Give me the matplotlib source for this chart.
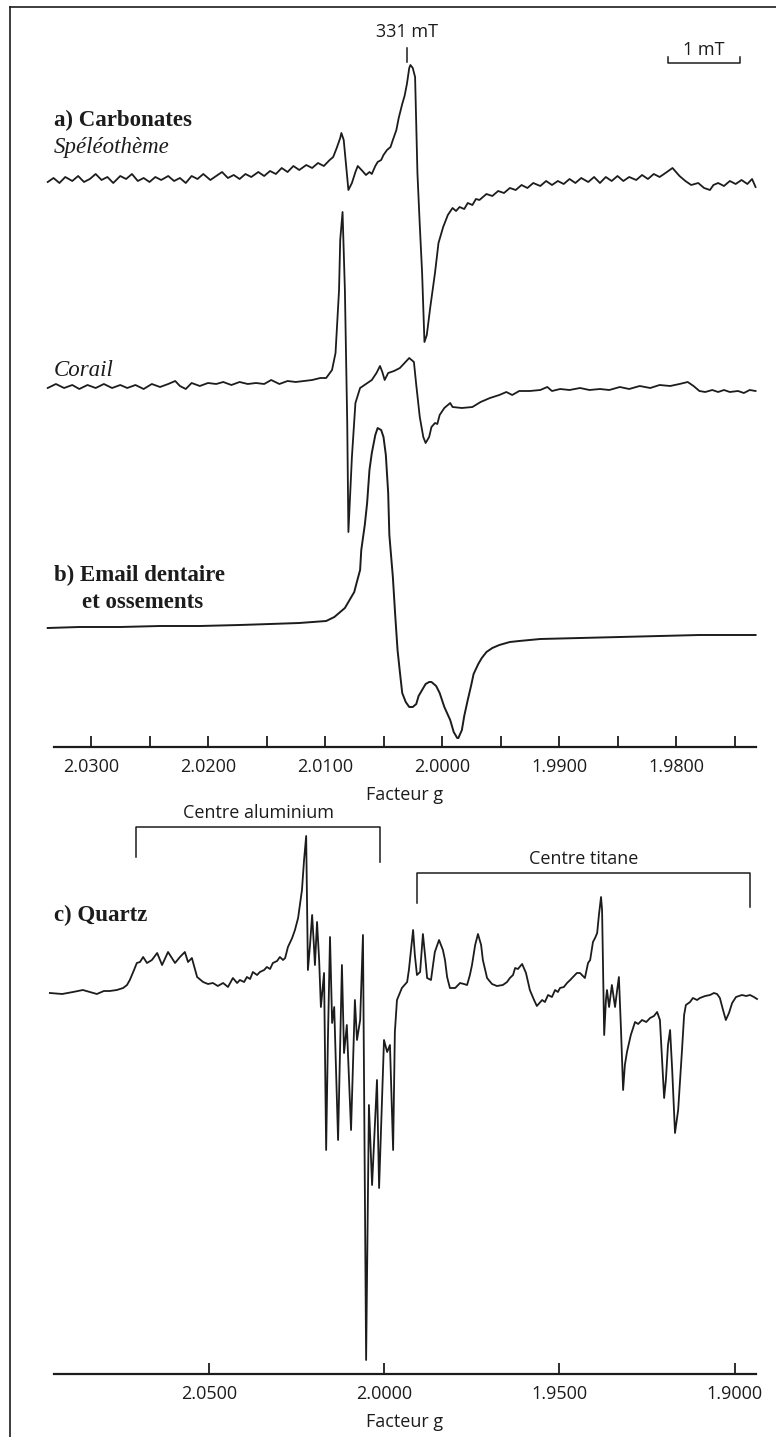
import matplotlib.pyplot as plt
import numpy as np
from matplotlib.lines import Line2D

W, H = 776, 1437

# ---- a) Carbonates / b) Email : facteur g vs amplitude (u.a.) ----
speleo_g = [2.0337, 2.0332, 2.0327, 2.0322, 2.0316, 2.0311, 2.0306, 2.0301, 2.0296, 2.0291,
            2.0286, 2.0281, 2.0275, 2.0270, 2.0265, 2.0260, 2.0255, 2.0250, 2.0245, 2.0240,
            2.0234, 2.0229, 2.0224, 2.0219, 2.0214, 2.0209, 2.0204, 2.0198, 2.0193, 2.0188,
            2.0183, 2.0178, 2.0173, 2.0168, 2.0163, 2.0157, 2.0152, 2.0147, 2.0142, 2.0137,
            2.0132, 2.0127, 2.0122, 2.0116, 2.0111, 2.0106, 2.0101, 2.0096, 2.0093, 2.0090,
            2.0087, 2.0086, 2.0084, 2.0082, 2.0080, 2.0077, 2.0074, 2.0072, 2.0068, 2.0065,
            2.0062, 2.0060, 2.0057, 2.0055, 2.0052, 2.0050, 2.0047, 2.0044, 2.0042, 2.0039,
            2.0037, 2.0034, 2.0032, 2.0030, 2.0028, 2.0027, 2.0025, 2.0023, 2.0021, 2.0019,
            2.0017, 2.0015, 2.0013, 2.0010, 2.0006, 2.0003, 1.9999, 1.9995, 1.9991, 1.9988,
            1.9985, 1.9981, 1.9978, 1.9974, 1.9971, 1.9968, 1.9962, 1.9957, 1.9952, 1.9947,
            1.9942, 1.9937, 1.9932, 1.9927, 1.9922, 1.9916, 1.9911, 1.9906, 1.9901, 1.9896,
            1.9891, 1.9886, 1.9881, 1.9875, 1.9870, 1.9865, 1.9860, 1.9855, 1.9850, 1.9845,
            1.9840, 1.9834, 1.9829, 1.9824, 1.9819, 1.9814, 1.9809, 1.9803, 1.9800, 1.9797,
            1.9792, 1.9787, 1.9781, 1.9776, 1.9771, 1.9768, 1.9764, 1.9759, 1.9754, 1.9749,
            1.9744, 1.9739, 1.9735, 1.9732]
speleo_amp = [-2, 2, -3, 3, -1, 4, -2, 1, 6, 0,
              3, -3, 4, 1, 6, -1, 2, -2, 3, 0,
              4, -1, 2, -3, 4, 1, 6, 0, 4, 8,
              2, 5, 1, 6, 3, 8, 4, 9, 6, 12,
              8, 14, 10, 15, 12, 17, 14, 20, 23, 32,
              42, 47, 40, 15, -10, -3, 8, 14, 9, 5,
              8, 6, 14, 18, 20, 25, 30, 33, 40, 50,
              62, 76, 84, 96, 112, 115, 112, 103, 7, -45,
              -93, -162, -155, -127, -93, -63, -47, -35, -28, -31,
              -27, -29, -23, -25, -19, -20, -14, -16, -11, -13,
              -8, -10, -5, -8, -3, -6, -1, -5, -1, -4,
              1, -3, 2, -2, 3, -3, 3, -1, 4, -1,
              3, 0, 5, 1, 6, 3, 7, 12, 8, 4,
              -1, -5, -3, -8, -10, -5, -3, -6, -1, -4,
              0, -4, 1, -7]

corail_g = [2.0337, 2.0330, 2.0323, 2.0316, 2.0310, 2.0303, 2.0296, 2.0289, 2.0282, 2.0275,
            2.0269, 2.0262, 2.0255, 2.0248, 2.0241, 2.0234, 2.0228, 2.0224, 2.0219, 2.0214,
            2.0207, 2.0200, 2.0193, 2.0187, 2.0180, 2.0173, 2.0166, 2.0159, 2.0152, 2.0146,
            2.0139, 2.0132, 2.0125, 2.0118, 2.0111, 2.0104, 2.0099, 2.0094, 2.0091, 2.0088,
            2.0087, 2.0085, 2.0083, 2.0081, 2.0080, 2.0077, 2.0074, 2.0070, 2.0065, 2.0060,
            2.0056, 2.0053, 2.0051, 2.0049, 2.0046, 2.0041, 2.0036, 2.0032, 2.0028, 2.0024,
            2.0022, 2.0019, 2.0016, 2.0014, 2.0011, 2.0009, 2.0006, 2.0004, 2.0002, 1.9998,
            1.9993, 1.9991, 1.9983, 1.9974, 1.9967, 1.9959, 1.9951, 1.9945, 1.9940, 1.9934,
            1.9925, 1.9916, 1.9910, 1.9906, 1.9899, 1.9891, 1.9882, 1.9874, 1.9865, 1.9857,
            1.9848, 1.9840, 1.9831, 1.9822, 1.9814, 1.9805, 1.9797, 1.9790, 1.9785, 1.9780,
            1.9775, 1.9769, 1.9764, 1.9759, 1.9754, 1.9747, 1.9742, 1.9737, 1.9732]
corail_amp = [-2, 2, -2, 1, -3, 1, -2, 2, -2, 1,
              -2, 1, -3, 2, -1, 2, 5, 0, -3, 3,
              0, 3, 2, 4, 1, 4, 2, 3, 2, 6,
              2, 5, 4, 5, 6, 8, 8, 16, 33, 96,
              146, 174, 96, -37, -146, -71, -17, -2, 2, 6,
              13, 20, 14, 6, 13, 15, 18, 23, 28, 24,
              1, -31, -51, -57, -51, -41, -37, -38, -29, -22,
              -17, -21, -22, -21, -16, -12, -9, -6, -9, -5,
              -5, -4, -1, -5, -3, -4, -2, -4, -3, -4,
              -1, -3, 0, -2, 1, 0, 2, 4, 0, -5,
              -6, -4, -6, -4, -6, -5, -7, -4, -5]

email_g = [2.0337, 2.0310, 2.0275, 2.0241, 2.0207, 2.0173, 2.0147, 2.0122, 2.0099, 2.0092,
           2.0087, 2.0083, 2.0079, 2.0075, 2.0073, 2.0070, 2.0069, 2.0066, 2.0064, 2.0062,
           2.0060, 2.0057, 2.0055, 2.0052, 2.0050, 2.0048, 2.0046, 2.0045, 2.0042, 2.0040,
           2.0038, 2.0036, 2.0034, 2.0031, 2.0028, 2.0025, 2.0022, 2.0020, 2.0017, 2.0014,
           2.0011, 2.0009, 2.0005, 2.0002, 1.9998, 1.9993, 1.9990, 1.9987, 1.9986, 1.9983,
           1.9981, 1.9978, 1.9975, 1.9973, 1.9969, 1.9966, 1.9962, 1.9957, 1.9951, 1.9942,
           1.9934, 1.9916, 1.9882, 1.9848, 1.9814, 1.9780, 1.9732]
email_amp = [0, 1, 1, 2, 2, 3, 4, 5, 7, 11,
             16, 20, 28, 36, 45, 58, 78, 103, 125, 158,
             175, 193, 200, 198, 191, 173, 135, 93, 51, 13,
             -22, -44, -65, -74, -79, -79, -76, -68, -62, -56,
             -54, -54, -58, -65, -79, -92, -104, -110, -110, -102,
             -88, -72, -57, -46, -36, -30, -24, -20, -17, -14,
             -13, -11, -10, -9, -8, -7, -7]

# ---- c) Quartz ----
quartz_g = [2.0953, 2.0918, 2.0887, 2.0859, 2.0839, 2.0819, 2.0799, 2.0782, 2.0762, 2.0744,
            2.0733, 2.0725, 2.0713, 2.0705, 2.0696, 2.0687, 2.0676, 2.0662, 2.0647, 2.0633,
            2.0616, 2.0605, 2.0596, 2.0582, 2.0568, 2.0559, 2.0548, 2.0533, 2.0516, 2.0502,
            2.0488, 2.0474, 2.0459, 2.0445, 2.0431, 2.0419, 2.0411, 2.0399, 2.0391, 2.0382,
            2.0374, 2.0362, 2.0354, 2.0342, 2.0334, 2.0325, 2.0317, 2.0305, 2.0297, 2.0288,
            2.0282, 2.0274, 2.0262, 2.0254, 2.0245, 2.0240, 2.0234, 2.0228, 2.0222, 2.0217,
            2.0211, 2.0205, 2.0200, 2.0197, 2.0191, 2.0185, 2.0180, 2.0171, 2.0165, 2.0160,
            2.0154, 2.0148, 2.0142, 2.0131, 2.0120, 2.0114, 2.0106, 2.0094, 2.0083, 2.0077,
            2.0068, 2.0060, 2.0051, 2.0043, 2.0034, 2.0020, 2.0014, 2.0000, 1.9991, 1.9983,
            1.9974, 1.9969, 1.9963, 1.9949, 1.9934, 1.9929, 1.9923, 1.9917, 1.9912, 1.9906,
            1.9897, 1.9889, 1.9883, 1.9877, 1.9866, 1.9855, 1.9843, 1.9832, 1.9826, 1.9820,
            1.9812, 1.9797, 1.9783, 1.9772, 1.9763, 1.9755, 1.9749, 1.9740, 1.9732, 1.9723,
            1.9718, 1.9706, 1.9692, 1.9678, 1.9661, 1.9649, 1.9641, 1.9632, 1.9626, 1.9618,
            1.9606, 1.9595, 1.9584, 1.9572, 1.9564, 1.9549, 1.9541, 1.9532, 1.9521, 1.9512,
            1.9504, 1.9498, 1.9487, 1.9478, 1.9469, 1.9461, 1.9450, 1.9441, 1.9427, 1.9418,
            1.9412, 1.9404, 1.9398, 1.9392, 1.9387, 1.9381, 1.9378, 1.9372, 1.9367, 1.9364,
            1.9358, 1.9350, 1.9341, 1.9335, 1.9330, 1.9324, 1.9318, 1.9313, 1.9307, 1.9296,
            1.9284, 1.9275, 1.9264, 1.9252, 1.9241, 1.9230, 1.9221, 1.9213, 1.9207, 1.9201,
            1.9196, 1.9190, 1.9184, 1.9178, 1.9170, 1.9161, 1.9156, 1.9150, 1.9144, 1.9139,
            1.9127, 1.9119, 1.9107, 1.9099, 1.9084, 1.9070, 1.9059, 1.9050, 1.9042, 1.9033,
            1.9025, 1.9016, 1.9007, 1.8996, 1.8979, 1.8967, 1.8956, 1.8945, 1.8936]
quartz_amp = [0, -1, 1, 3, 1, -1, 2, 2, 3, 5,
              8, 13, 23, 30, 31, 36, 30, 33, 40, 28,
              41, 35, 30, 36, 41, 31, 35, 16, 11, 9,
              10, 7, 10, 6, 15, 10, 13, 11, 16, 14,
              21, 18, 21, 23, 26, 24, 30, 32, 36, 33,
              35, 46, 55, 63, 75, 88, 103, 133, 157, 23,
              48, 78, 48, 28, 71, 33, -14, 20, -157, -47,
              56, -30, -14, -147, 28, -60, -32, -137, -7, -47,
              -27, 58, -367, -112, -192, -87, -195, -47, -59, -52,
              -157, -39, -7, 5, 11, 23, 43, 63, 38, 18,
              21, 59, 38, 15, 13, 41, 53, 43, 33, 16,
              5, 5, 10, 9, 8, 18, 28, 48, 59, 48,
              33, 15, 9, 7, 8, 11, 15, 18, 25, 24,
              29, 20, 3, -7, -13, -7, -9, -2, -4, 3,
              1, 5, 6, 10, 13, 16, 20, 20, 15, 30,
              33, 51, 55, 60, 78, 96, 83, -42, -7, 3,
              -14, 8, -14, 3, 16, -37, -97, -72, -59, -42,
              -29, -31, -27, -29, -25, -23, -19, -27, -67, -105,
              -87, -52, -37, -77, -140, -117, -90, -57, -22, -12,
              -9, -5, -7, -5, -3, -2, 0, -1, -5, -17,
              -27, -20, -10, -4, -2, -3, -2, -4, -6]

top_ticks = [2.03, 2.02, 2.01, 2.00, 1.99, 1.98]
top_tick_labels = ['2.0300', '2.0200', '2.0100', '2.0000', '1.9900', '1.9800']
top_minor = [2.025, 2.015, 2.005, 1.995, 1.985, 1.975]
bot_ticks = [2.05, 2.00, 1.95, 1.90]
bot_tick_labels = ['2.0500', '2.0000', '1.9500', '1.9000']

marker_g = 2.0030            # 331 mT
scale_bar_g = (1.9807, 1.9745)  # 1 mT
bracket_al = (2.0707, 2.0011)
bracket_ti = (1.9906, 1.8956)

# baselines of the stacked traces (same units as amplitudes)
off_speleo, off_corail, off_email = 567, 361, 119
off_quartz = 381

ink = '#1c1c1c'
plt.rcParams['font.family'] = ['Open Sans', 'DejaVu Sans']

fig = plt.figure(figsize=(W / 100, H / 100), dpi=100)


def px_box(x0, y0, x1, y1):
    return [x0 / W, 1 - y1 / H, (x1 - x0) / W, (y1 - y0) / H]


ax1 = fig.add_axes(px_box(40, 10, 770, 747))
ax2 = fig.add_axes(px_box(40, 800, 770, 1374))
ax1.set_xlim(2.034359, 1.971966)
ax1.set_ylim(0, 737)
ax2.set_xlim(2.098117, 1.889903)
ax2.set_ylim(0, 574)

ax1.plot(speleo_g, np.array(speleo_amp) + off_speleo, color=ink, lw=1.3)
ax1.plot(corail_g, np.array(corail_amp) + off_corail, color=ink, lw=1.3)
ax1.plot(email_g, np.array(email_amp) + off_email, color=ink, lw=1.4)
ax2.plot(quartz_g, np.array(quartz_amp) + off_quartz, color=ink, lw=1.3)

for ax, bounds in [(ax1, (2.033162, 1.973162)), (ax2, (2.094124, 1.893896))]:
    ax.patch.set_alpha(0)
    for s in ['top', 'left', 'right']:
        ax.spines[s].set_visible(False)
    ax.spines['bottom'].set_linewidth(1.6)
    ax.spines['bottom'].set_color(ink)
    ax.spines['bottom'].set_bounds(*bounds)
    ax.set_yticks([])
    ax.tick_params(axis='x', which='both', direction='in', length=8, width=1.3,
                   color=ink, pad=8, labelsize=13, labelcolor=ink)
    ax.set_xlabel('Facteur g', fontsize=13, labelpad=7, color=ink)

ax1.set_xticks(top_ticks, top_tick_labels)
ax1.set_xticks(top_minor, minor=True)
ax2.set_xticks(bot_ticks, bot_tick_labels)

# 331 mT marker and 1 mT scale bar
ax1.text(marker_g, 715, '331 mT', ha='center', va='center', fontsize=13, color=ink)
ax1.plot([marker_g, marker_g], [685, 699], color=ink, lw=1.1)
ax1.plot([scale_bar_g[0], scale_bar_g[0], scale_bar_g[1], scale_bar_g[1]],
         [690, 684, 684, 690], color=ink, lw=1.1)
ax1.text(sum(scale_bar_g) / 2, 697, '1 mT', ha='center', va='center', fontsize=13, color=ink)

# brackets for the quartz centres
ax2.plot([bracket_al[0], bracket_al[0], bracket_al[1], bracket_al[1]],
         [517, 547, 547, 512], color=ink, lw=1.1)
ax2.text(sum(bracket_al) / 2, 561, 'Centre aluminium', ha='center', va='center',
         fontsize=13, color=ink)
ax2.plot([bracket_ti[0], bracket_ti[0], bracket_ti[1], bracket_ti[1]],
         [471, 501, 501, 467], color=ink, lw=1.1)
ax2.text(sum(bracket_ti) / 2, 515, 'Centre titane', ha='center', va='center',
         fontsize=13, color=ink)

serif = dict(family='Liberation Serif', color=ink, va='center', fontsize=16.5)
fig.text(54 / W, 1 - 120 / H, 'a) Carbonates', weight='bold', **serif)
fig.text(54 / W, 1 - 148 / H, 'Spéléothème', style='italic', **serif)
fig.text(54 / W, 1 - 370 / H, 'Corail', style='italic', **serif)
fig.text(54 / W, 1 - 575 / H, 'b) Email dentaire', weight='bold', **serif)
fig.text(82 / W, 1 - 603 / H, 'et ossements', weight='bold', **serif)
fig.text(54 / W, 1 - 915 / H, 'c) Quartz', weight='bold', **serif)

# frame around the figure
fig.add_artist(Line2D([9.5 / W, 9.5 / W], [0, 1 - 7 / H], color=ink, lw=1.2))
fig.add_artist(Line2D([9.5 / W, 1], [1 - 7 / H, 1 - 7 / H], color=ink, lw=1.2))

fig.savefig('out.png', dpi=100)
